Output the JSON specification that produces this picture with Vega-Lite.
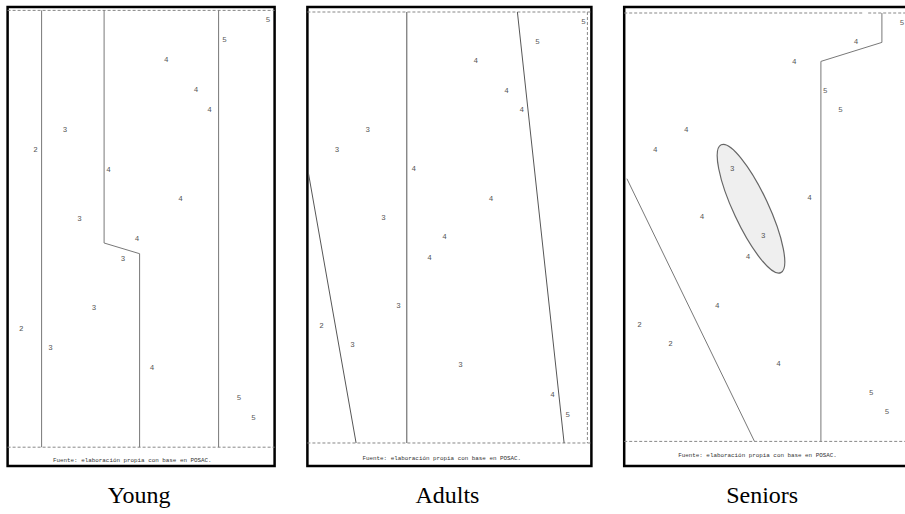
{
  "$schema": "https://vega.github.io/schema/vega-lite/v6.json",
  "padding": {"left": 5.6, "top": 5, "right": 0, "bottom": 0},
  "background": "white",
  "spacing": 28.8,
  "config": {
    "view": {"stroke": "black", "strokeWidth": 2.5},
    "title": {"font": "Liberation Serif", "fontSize": 24, "fontWeight": "normal", "color": "black", "orient": "bottom", "offset": 18, "anchor": "middle"}
  },
  "datasets": {
    "labels": [
      {"panel": "Young", "x": 267.7, "y": 20.7, "label": "5"},
      {"panel": "Young", "x": 224.3, "y": 40.7, "label": "5"},
      {"panel": "Young", "x": 166, "y": 60.3, "label": "4"},
      {"panel": "Young", "x": 195.7, "y": 90.3, "label": "4"},
      {"panel": "Young", "x": 209.3, "y": 110, "label": "4"},
      {"panel": "Young", "x": 64.7, "y": 130, "label": "3"},
      {"panel": "Young", "x": 35.3, "y": 150, "label": "2"},
      {"panel": "Young", "x": 108.3, "y": 170, "label": "4"},
      {"panel": "Young", "x": 180.3, "y": 199.3, "label": "4"},
      {"panel": "Young", "x": 79.3, "y": 219, "label": "3"},
      {"panel": "Young", "x": 136.7, "y": 239, "label": "4"},
      {"panel": "Young", "x": 122.7, "y": 259.3, "label": "3"},
      {"panel": "Young", "x": 93.7, "y": 308.7, "label": "3"},
      {"panel": "Young", "x": 21, "y": 329, "label": "2"},
      {"panel": "Young", "x": 50.3, "y": 348.3, "label": "3"},
      {"panel": "Young", "x": 151.7, "y": 368.3, "label": "4"},
      {"panel": "Young", "x": 238.7, "y": 398.3, "label": "5"},
      {"panel": "Young", "x": 253.3, "y": 418.3, "label": "5"},
      {"panel": "Adults", "x": 583.3, "y": 22, "label": "5"},
      {"panel": "Adults", "x": 537.3, "y": 42, "label": "5"},
      {"panel": "Adults", "x": 475.7, "y": 61.3, "label": "4"},
      {"panel": "Adults", "x": 506.3, "y": 91, "label": "4"},
      {"panel": "Adults", "x": 521.7, "y": 110.3, "label": "4"},
      {"panel": "Adults", "x": 367.7, "y": 130, "label": "3"},
      {"panel": "Adults", "x": 337, "y": 150, "label": "3"},
      {"panel": "Adults", "x": 413.7, "y": 169.3, "label": "4"},
      {"panel": "Adults", "x": 491, "y": 199, "label": "4"},
      {"panel": "Adults", "x": 383.3, "y": 218, "label": "3"},
      {"panel": "Adults", "x": 444.3, "y": 237.7, "label": "4"},
      {"panel": "Adults", "x": 429.3, "y": 258, "label": "4"},
      {"panel": "Adults", "x": 398.3, "y": 306.7, "label": "3"},
      {"panel": "Adults", "x": 321.3, "y": 326.3, "label": "2"},
      {"panel": "Adults", "x": 352.3, "y": 345.7, "label": "3"},
      {"panel": "Adults", "x": 460.3, "y": 365.7, "label": "3"},
      {"panel": "Adults", "x": 552.3, "y": 395, "label": "4"},
      {"panel": "Adults", "x": 567.7, "y": 415, "label": "5"},
      {"panel": "Seniors", "x": 901.7, "y": 23.3, "label": "5"},
      {"panel": "Seniors", "x": 855.7, "y": 42.7, "label": "4"},
      {"panel": "Seniors", "x": 794, "y": 62, "label": "4"},
      {"panel": "Seniors", "x": 825, "y": 91.3, "label": "5"},
      {"panel": "Seniors", "x": 840.3, "y": 110.7, "label": "5"},
      {"panel": "Seniors", "x": 686, "y": 130, "label": "4"},
      {"panel": "Seniors", "x": 655, "y": 150, "label": "4"},
      {"panel": "Seniors", "x": 732, "y": 169, "label": "3"},
      {"panel": "Seniors", "x": 809.3, "y": 198.7, "label": "4"},
      {"panel": "Seniors", "x": 701.7, "y": 217.3, "label": "4"},
      {"panel": "Seniors", "x": 763, "y": 236.7, "label": "3"},
      {"panel": "Seniors", "x": 747.7, "y": 257.3, "label": "4"},
      {"panel": "Seniors", "x": 717, "y": 306, "label": "4"},
      {"panel": "Seniors", "x": 639.3, "y": 325, "label": "2"},
      {"panel": "Seniors", "x": 670.3, "y": 344, "label": "2"},
      {"panel": "Seniors", "x": 778.3, "y": 364, "label": "4"},
      {"panel": "Seniors", "x": 871, "y": 393.3, "label": "5"},
      {"panel": "Seniors", "x": 886.7, "y": 412.7, "label": "5"}
    ],
    "dashes": [
      {"panel": "Young", "x": 7.3, "y": 10.7, "x2": 274.3, "y2": 10.7},
      {"panel": "Young", "x": 7.3, "y": 447.5, "x2": 274.3, "y2": 447.5},
      {"panel": "Adults", "x": 307.3, "y": 12.3, "x2": 591.3, "y2": 12.3},
      {"panel": "Adults", "x": 307.3, "y": 443.3, "x2": 591.3, "y2": 443.3},
      {"panel": "Adults", "x": 587.3, "y": 12.3, "x2": 587.3, "y2": 443.3},
      {"panel": "Seniors", "x": 624, "y": 13.3, "x2": 863, "y2": 13.3},
      {"panel": "Seniors", "x": 868, "y": 13.3, "x2": 908, "y2": 13.3},
      {"panel": "Seniors", "x": 624, "y": 441.7, "x2": 908, "y2": 441.7}
    ],
    "partitions": [
      {"panel": "Young", "x": 41.3, "y": 10.7, "x2": 41.3, "y2": 447.5},
      {"panel": "Young", "x": 103.8, "y": 10.7, "x2": 103.8, "y2": 243.3},
      {"panel": "Young", "x": 103.8, "y": 243.3, "x2": 139.3, "y2": 254},
      {"panel": "Young", "x": 139.3, "y": 254, "x2": 139.3, "y2": 447.5},
      {"panel": "Young", "x": 218.3, "y": 10.7, "x2": 218.3, "y2": 447.5},
      {"panel": "Adults", "x": 406.7, "y": 12.3, "x2": 406.7, "y2": 443.3},
      {"panel": "Adults", "x": 517.3, "y": 12.3, "x2": 564, "y2": 443.3},
      {"panel": "Adults", "x": 308.3, "y": 173.3, "x2": 356, "y2": 443.3},
      {"panel": "Seniors", "x": 881.7, "y": 13.3, "x2": 881.7, "y2": 42.7},
      {"panel": "Seniors", "x": 881.7, "y": 42.7, "x2": 820.7, "y2": 61.7},
      {"panel": "Seniors", "x": 820.7, "y": 61.7, "x2": 820.7, "y2": 441.7},
      {"panel": "Seniors", "x": 626.7, "y": 179, "x2": 754.3, "y2": 441.7}
    ],
    "notes": [
      {"panel": "Young", "x": 132, "y": 460, "text": "Fuente: elaboración propia con base en POSAC."},
      {"panel": "Adults", "x": 441.7, "y": 458.3, "text": "Fuente: elaboración propia con base en POSAC."},
      {"panel": "Seniors", "x": 757.3, "y": 455, "text": "Fuente: elaboración propia con base en POSAC."}
    ],
    "regions": [
      {"panel": "Seniors", "x": 750.8, "y": 209}
    ]
  },
  "hconcat": [
    {
      "width": 267,
      "height": 459,
      "title": {"text": "Young", "dx": -2},
      "encoding": {
        "x": {"field": "x", "type": "quantitative", "scale": {"domain": [7.3, 274.3], "nice": false, "zero": false}, "axis": null},
        "y": {"field": "y", "type": "quantitative", "scale": {"domain": [7.3, 466.3], "nice": false, "zero": false, "reverse": true}, "axis": null}
      },
      "layer": [
        {"data": {"name": "dashes"}, "transform": [{"filter": "datum.panel === 'Young'"}], "mark": {"type": "rule", "color": "#888", "strokeWidth": 1, "strokeDash": [3, 2]}, "encoding": {"x2": {"field": "x2"}, "y2": {"field": "y2"}}},
        {"data": {"name": "partitions"}, "transform": [{"filter": "datum.panel === 'Young'"}], "mark": {"type": "rule", "color": "#777", "strokeWidth": 1}, "encoding": {"x2": {"field": "x2"}, "y2": {"field": "y2"}}},
        {"data": {"name": "labels"}, "transform": [{"filter": "datum.panel === 'Young'"}], "mark": {"type": "text", "font": "Liberation Mono", "fontSize": 7.5, "color": "#555"}, "encoding": {"text": {"field": "label"}}},
        {"data": {"name": "notes"}, "transform": [{"filter": "datum.panel === 'Young'"}], "mark": {"type": "text", "font": "Liberation Mono", "fontSize": 5.9, "color": "#333"}, "encoding": {"text": {"field": "text"}}}
      ]
    },
    {
      "width": 284,
      "height": 459,
      "title": {"text": "Adults", "dx": -2},
      "encoding": {
        "x": {"field": "x", "type": "quantitative", "scale": {"domain": [307.3, 591.3], "nice": false, "zero": false}, "axis": null},
        "y": {"field": "y", "type": "quantitative", "scale": {"domain": [7.3, 466.3], "nice": false, "zero": false, "reverse": true}, "axis": null}
      },
      "layer": [
        {"data": {"name": "dashes"}, "transform": [{"filter": "datum.panel === 'Adults'"}], "mark": {"type": "rule", "color": "#888", "strokeWidth": 1, "strokeDash": [3, 2]}, "encoding": {"x2": {"field": "x2"}, "y2": {"field": "y2"}}},
        {"data": {"name": "partitions"}, "transform": [{"filter": "datum.panel === 'Adults'"}], "mark": {"type": "rule", "color": "#555", "strokeWidth": 1}, "encoding": {"x2": {"field": "x2"}, "y2": {"field": "y2"}}},
        {"data": {"name": "labels"}, "transform": [{"filter": "datum.panel === 'Adults'"}], "mark": {"type": "text", "font": "Liberation Mono", "fontSize": 7.5, "color": "#555"}, "encoding": {"text": {"field": "label"}}},
        {"data": {"name": "notes"}, "transform": [{"filter": "datum.panel === 'Adults'"}], "mark": {"type": "text", "font": "Liberation Mono", "fontSize": 5.9, "color": "#333"}, "encoding": {"text": {"field": "text"}}}
      ]
    },
    {
      "width": 284,
      "height": 459,
      "title": {"text": "Seniors", "dx": -4},
      "encoding": {
        "x": {"field": "x", "type": "quantitative", "scale": {"domain": [624, 908], "nice": false, "zero": false}, "axis": null},
        "y": {"field": "y", "type": "quantitative", "scale": {"domain": [7.3, 466.3], "nice": false, "zero": false, "reverse": true}, "axis": null}
      },
      "layer": [
        {"data": {"name": "dashes"}, "transform": [{"filter": "datum.panel === 'Seniors'"}], "mark": {"type": "rule", "color": "#888", "strokeWidth": 1, "strokeDash": [3, 2]}, "encoding": {"x2": {"field": "x2"}, "y2": {"field": "y2"}}},
        {"data": {"name": "partitions"}, "transform": [{"filter": "datum.panel === 'Seniors'"}], "mark": {"type": "rule", "color": "#777", "strokeWidth": 1}, "encoding": {"x2": {"field": "x2"}, "y2": {"field": "y2"}}},
        {"data": {"name": "regions"}, "transform": [{"filter": "datum.panel === 'Seniors'"}], "mark": {"type": "point", "shape": "M 0 -1 C 0.137 -1 0.248 -0.5523 0.248 0 C 0.248 0.5523 0.137 1 0 1 C -0.137 1 -0.248 0.5523 -0.248 0 C -0.248 -0.5523 -0.137 -1 0 -1 Z", "size": 19881, "angle": 335, "filled": true, "fill": "#efefef", "stroke": "#666", "strokeWidth": 1.2, "opacity": 1, "fillOpacity": 1, "strokeOpacity": 1}},
        {"data": {"name": "labels"}, "transform": [{"filter": "datum.panel === 'Seniors'"}], "mark": {"type": "text", "font": "Liberation Mono", "fontSize": 7.5, "color": "#555"}, "encoding": {"text": {"field": "label"}}},
        {"data": {"name": "notes"}, "transform": [{"filter": "datum.panel === 'Seniors'"}], "mark": {"type": "text", "font": "Liberation Mono", "fontSize": 5.9, "color": "#333"}, "encoding": {"text": {"field": "text"}}}
      ]
    }
  ]
}
